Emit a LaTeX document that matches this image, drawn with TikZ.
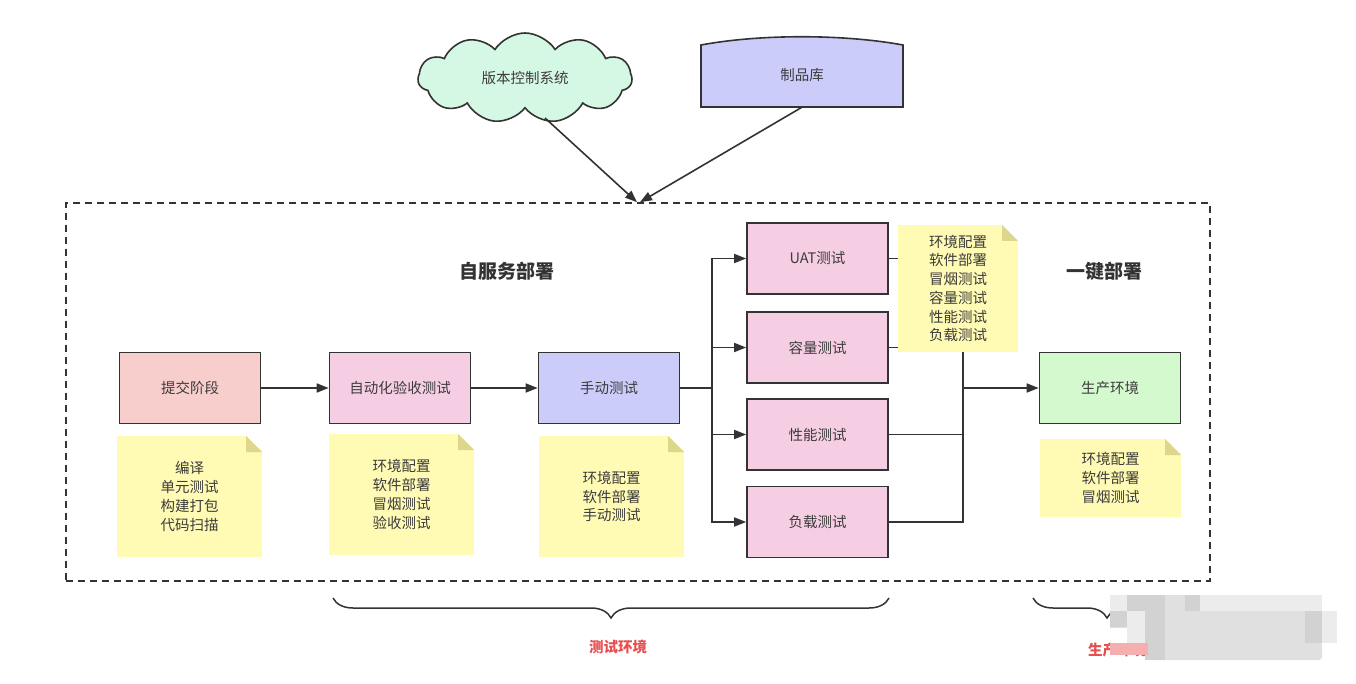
\documentclass[tikz,border=0pt]{standalone}
\usepackage{fontspec}
\setmainfont{Noto Sans CJK SC}
\usetikzlibrary{arrows.meta,shapes.symbols,decorations.pathreplacing}
\definecolor{edge}{RGB}{51,51,51}
\definecolor{txt}{RGB}{60,60,60}
\definecolor{cloudc}{RGB}{213,248,228}
\definecolor{lav}{RGB}{204,204,250}
\definecolor{pinkred}{RGB}{248,206,204}
\definecolor{pinkc}{RGB}{245,206,228}
\definecolor{greenc}{RGB}{213,249,206}
\definecolor{notey}{RGB}{255,250,180}
\definecolor{notefold}{RGB}{221,214,140}
\definecolor{redlab}{RGB}{232,78,78}
\definecolor{blurA}{RGB}{224,224,224}
\definecolor{blurB}{RGB}{210,210,210}
\definecolor{blurC}{RGB}{236,236,236}
\begin{document}
\begin{tikzpicture}[x=1pt,y=-1pt,
  lbl/.style={font=\fontsize{14.5}{18.7}\selectfont, text=txt},
  box/.style={lbl, draw=edge, line width=1.6pt, minimum width=141pt, minimum height=71pt, inner sep=0pt},
  note/.style={lbl, fill=notey, inner sep=0pt, align=center,
    path picture={
      \fill[white] ([xshift=-16pt]path picture bounding box.north east) -- (path picture bounding box.north east) -- ([yshift=-16pt]path picture bounding box.north east) -- cycle;
      \fill[notefold] ([xshift=-16pt]path picture bounding box.north east) -- ([xshift=-16pt,yshift=-16pt]path picture bounding box.north east) -- ([yshift=-16pt]path picture bounding box.north east) -- cycle;
    }},
  conn/.style={draw=edge, line width=1.6pt},
  arr/.style={conn, -{Triangle[length=12pt,width=9pt]}},
  title/.style={font=\fontsize{19}{22}\selectfont\bfseries, text=edge},
  bracestyle/.style={draw=edge, line width=1.5pt, decorate, decoration={brace, mirror, amplitude=20pt}},
  redlabel/.style={font=\fontsize{14.5}{17}\selectfont\bfseries, text=redlab}
]
\fill[white] (0,0) rectangle (1356,684);
\useasboundingbox (0,0) rectangle (1356,684);

% top sources
\node[cloud, cloud puffs=11, cloud puff arc=115, aspect=2.4, draw=edge, line width=1.6pt, fill=cloudc,
      minimum width=214pt, minimum height=90pt, inner sep=0pt, lbl] (vcs) at (525,78) {版本控制系统};
\fill[lav] (701,107) -- (701,45) .. controls (760,34) and (843,34) .. (903,45) -- (903,107) -- cycle;
\draw[edge, line width=1.6pt] (701,107) -- (701,45) .. controls (760,34) and (843,34) .. (903,45) -- (903,107) -- cycle;
\node[lbl, minimum width=202pt, minimum height=62pt, inner sep=0pt] (art) at (802,76) {\raisebox{3pt}{制品库}};

% frame
\node[draw=edge, line width=1.6pt, dash pattern=on 7pt off 5pt, minimum width=1144pt, minimum height=378pt, inner sep=0pt] (frame) at (638,392) {};
\draw[arr] ([xshift=20pt,yshift=-9pt]vcs.south) -- ([xshift=-1pt]frame.north);
\draw[arr] (art.south) -- ([xshift=2pt]frame.north);

% titles
\node[title] (t1) at (507,271) {自服务部署};
\node[title] (t2) at (1104,271) {一键部署};

% stage boxes
\node[box, fill=pinkred] (submit) at (190,388) {提交阶段};
\node[box, fill=pinkc] (auto) at (400,388) {自动化验收测试};
\node[box, fill=lav] (manual) at (609,388) {手动测试};
\node[box, fill=pinkc] (uat) at (817.5,258.5) {UAT测试};
\node[box, fill=pinkc] (cap) at (817.5,347.5) {容量测试};
\node[box, fill=pinkc] (perf) at (817.5,434.5) {性能测试};
\node[box, fill=pinkc] (load) at (817.5,522) {负载测试};
\node[box, fill=greenc] (prod) at (1110,388) {生产环境};

% connectors
\coordinate (split) at (712,388);
\coordinate (join) at (963,388);
\draw[arr] (submit) -- (auto);
\draw[arr] (auto) -- (manual);
\draw[conn] (manual.east) -- (split);
\draw[arr] (split) |- (uat.west);
\draw[arr] (split) |- (cap.west);
\draw[arr] (split) |- (perf.west);
\draw[arr] (split) |- (load.west);
\draw[conn] (uat.east) -| (join);
\draw[conn] (load.east) -| (join);
\draw[conn] (cap.east) -- (cap.east -| join);
\draw[conn] (perf.east) -- (perf.east -| join);
\draw[arr] (join) -- (prod.west);

% notes
\node[note, minimum width=145pt, minimum height=121pt] (n1) at (189.5,496.5) {编译\\单元测试\\构建打包\\代码扫描};
\node[note, minimum width=145pt, minimum height=121pt] (n2) at (401.5,494.5) {环境配置\\软件部署\\冒烟测试\\验收测试};
\node[note, minimum width=145pt, minimum height=121pt] (n3) at (611.5,496.5) {环境配置\\软件部署\\手动测试};
\node[note, minimum width=120pt, minimum height=127pt] (n4) at (958,288.5) {环境配置\\软件部署\\冒烟测试\\容量测试\\性能测试\\负载测试};
\node[note, minimum width=141pt, minimum height=78pt] (n5) at (1110.5,478) {环境配置\\软件部署\\冒烟测试};

% braces and labels
\coordinate (b1a) at (333,598);
\coordinate (b1b) at (889,598);
\coordinate (b2a) at (1033,598);
\coordinate (b2b) at (1181,598);
\draw[bracestyle] (b1a) -- (b1b);
\draw[bracestyle] (b2a) -- (b2b);
\node[redlabel] (l1) at (618,647) {测试环境};
\node[redlabel] (l2) at (1117,650) {生产环境};

% blurred watermark patch
\fill[blurA] (1110,595) rectangle (1322,612);
\fill[blurA] (1110,611) rectangle (1337,628);
\fill[blurA] (1127,627) rectangle (1337,643);
\fill[blurA, rounded corners=3pt] (1148,642) rectangle (1322,660);
\fill[blurC] (1110,595) rectangle (1127,611);
\fill[blurB] (1127,595) rectangle (1165,611);
\fill[blurB] (1185,595) rectangle (1200,611);
\fill[blurB] (1110,611) rectangle (1127,627);
\fill[blurC] (1127,611) rectangle (1145,627);
\fill[blurB] (1145,611) rectangle (1165,660);
\fill[blurC] (1200,595) rectangle (1322,611);
\fill[blurB] (1305,611) rectangle (1322,643);
\fill[blurC] (1322,611) rectangle (1337,643);
\fill[blurC] (1127,627) rectangle (1145,643);
\fill[redlab!45] (1110,643) rectangle (1148,655);
\end{tikzpicture}
\end{document}
